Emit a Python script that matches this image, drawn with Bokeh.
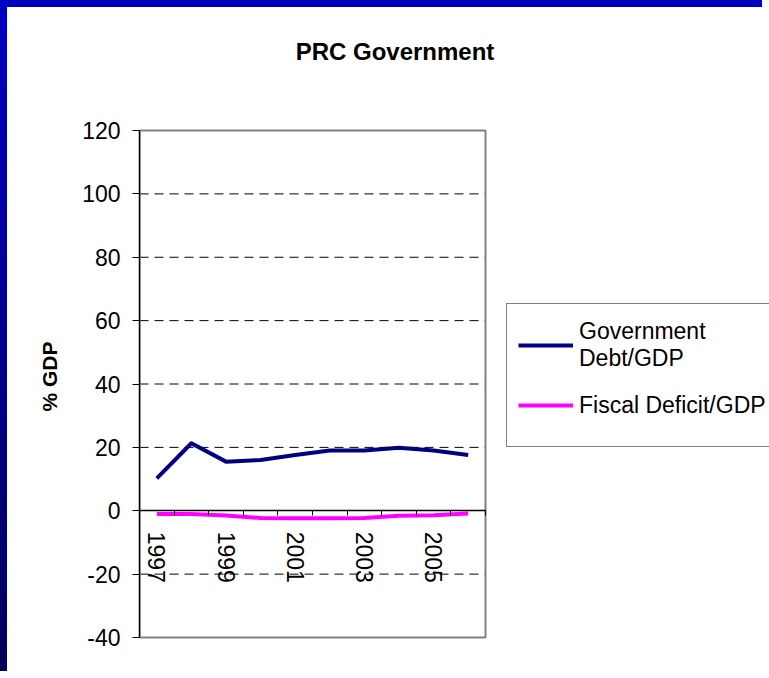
import math
from bokeh.plotting import figure
from bokeh.models import (Range1d, FixedTicker, LinearAxis, Legend, LegendItem,
                          Title, Label, BasicTickFormatter)
from bokeh.embed import file_html
from bokeh.resources import INLINE

# ---- data ----
years = [1997, 1998, 1999, 2000, 2001, 2002, 2003, 2004, 2005, 2006]
debt_gdp = [10.2, 21.3, 15.5, 16.0, 17.6, 19.0, 19.0, 19.9, 19.0, 17.6]
deficit_gdp = [-1.0, -1.0, -1.5, -2.3, -2.4, -2.4, -2.3, -1.6, -1.4, -0.9]
labelled_years = years[::2]
y_ticks = [-40, -20, 0, 20, 40, 60, 80, 100, 120]
y_tick_labels = ["-40", "-20", "0", "20", "40", "60", "80", "100", "120"]
grid_ticks = [-20, 20, 40, 60, 80, 100]
series_names = ["Government\nDebt/GDP", "Fiscal Deficit/GDP"]
title_text = "PRC Government"
y_label = "% GDP"

FONT = "Liberation Sans"

# ---- layout (pixels) ----
W, H = 762, 671            # canvas size (plus 7px slide frame on left/top)
LEFT = 132                 # width of the left panel (y axis + label)
PX_PER_CAT = 34.6          # width of one year category
PX_PER_UNIT = 507 / 160.0  # vertical pixels per % point
TOP_PAD = 123              # space from canvas top to the 120 line
BOTTOM_PAD = 41            # space from the -40 line to canvas bottom

x0 = years[0] - 0.5
x1 = years[-1] + 0.5
frame_w = W - LEFT
x_end = x0 + frame_w / PX_PER_CAT
y_lo, y_hi = y_ticks[0], y_ticks[-1]
y_start = y_lo - BOTTOM_PAD / PX_PER_UNIT
y_end = y_hi + TOP_PAD / PX_PER_UNIT

p = figure(width=W, height=H, output_backend="svg", toolbar_location=None,
           x_range=Range1d(x0, x_end), y_range=Range1d(y_start, y_end),
           x_axis_location=None, y_axis_location="left",
           min_border_left=LEFT, min_border_right=0,
           min_border_top=0, min_border_bottom=0)

# blue slide frame on the left and top edges
p.styles = {"border-style": "solid", "border-color": "#00009A",
            "border-width": "7px 0px 0px 7px",
            "border-image": "linear-gradient(to bottom, #0000C0, #000058) 1"}

p.background_fill_color = "white"
p.border_fill_color = "white"
p.outline_line_color = None
p.xgrid.visible = False
p.ygrid.visible = False

# dashed gridlines limited to the plot area
n = len(grid_ticks)
p.segment(x0=[x0] * n, x1=[x1] * n, y0=grid_ticks, y1=grid_ticks,
          line_color="black", line_width=1, line_dash="9 6")

# plot area box (gray border)
p.quad(left=[x0], right=[x1], bottom=[y_lo], top=[y_hi],
       fill_color=None, line_color="#808080", line_width=2)

# title
p.add_layout(Label(x=255.5, y=H - 44, x_units="screen", y_units="screen",
                   text=title_text, text_align="center", text_baseline="alphabetic",
                   text_font=FONT, text_font_size="24px", text_font_style="bold",
                   text_color="black"))

# y axis
ya = p.yaxis[0]
ya.ticker = FixedTicker(ticks=y_ticks)
ya.bounds = (y_lo, y_hi)
ya.major_label_overrides = {t: s for t, s in zip(y_ticks, y_tick_labels)}
ya.axis_line_color = "black"
ya.axis_line_width = 1.5
ya.major_tick_line_color = "black"
ya.major_tick_out = 7
ya.major_tick_in = 0
ya.minor_tick_line_color = None
ya.major_label_standoff = 12
ya.major_label_text_font = FONT
ya.major_label_text_font_size = "23px"
ya.major_label_text_color = "black"

p.add_layout(Title(text=y_label, align="left", offset=267, standoff=38,
                   text_font=FONT, text_font_size="21px", text_font_style="bold",
                   text_color="black"), "left")

# x axis at zero: tick marks at category boundaries
boundaries = [y + 0.5 for y in years]
xa1 = LinearAxis(fixed_location=0, ticker=FixedTicker(ticks=boundaries), bounds=(x0, x1))
xa1.axis_line_color = "black"
xa1.axis_line_width = 1.5
xa1.major_tick_line_color = "black"
xa1.major_tick_out = 5
xa1.major_tick_in = 0
xa1.minor_tick_line_color = None
xa1.major_label_text_color = None
p.add_layout(xa1, "below")

# x axis labels (every other year), rotated
xa2 = LinearAxis(fixed_location=0, ticker=FixedTicker(ticks=labelled_years),
                 formatter=BasicTickFormatter(use_scientific=False))
xa2.axis_line_color = None
xa2.major_tick_line_color = None
xa2.major_tick_out = 0
xa2.major_tick_in = 0
xa2.minor_tick_line_color = None
xa2.major_label_orientation = -math.pi / 2
xa2.major_label_standoff = 21
xa2.major_label_text_font = FONT
xa2.major_label_text_font_size = "23px"
xa2.major_label_text_color = "black"
p.add_layout(xa2, "below")

# lines
r1 = p.line(years, debt_gdp, line_color="#000080", line_width=4, line_join="round")
r2 = p.line(years, deficit_gdp, line_color="#FF00FF", line_width=4, line_join="round")

legend = Legend(items=[LegendItem(label=series_names[0], renderers=[r1]),
                       LegendItem(label=series_names[1], renderers=[r2])],
                location=(367, 231))
legend.border_line_color = "black"
legend.border_line_width = 1
legend.background_fill_color = "white"
legend.background_fill_alpha = 1
legend.label_text_font = FONT
legend.label_text_font_size = "23px"
legend.label_text_color = "black"
legend.glyph_width = 55
legend.label_standoff = 6
legend.padding = 11
legend.spacing = 0
legend.label_height = 60
legend.margin = 0
p.add_layout(legend, "center")

open("out.html", "w").write(file_html(p, INLINE))
